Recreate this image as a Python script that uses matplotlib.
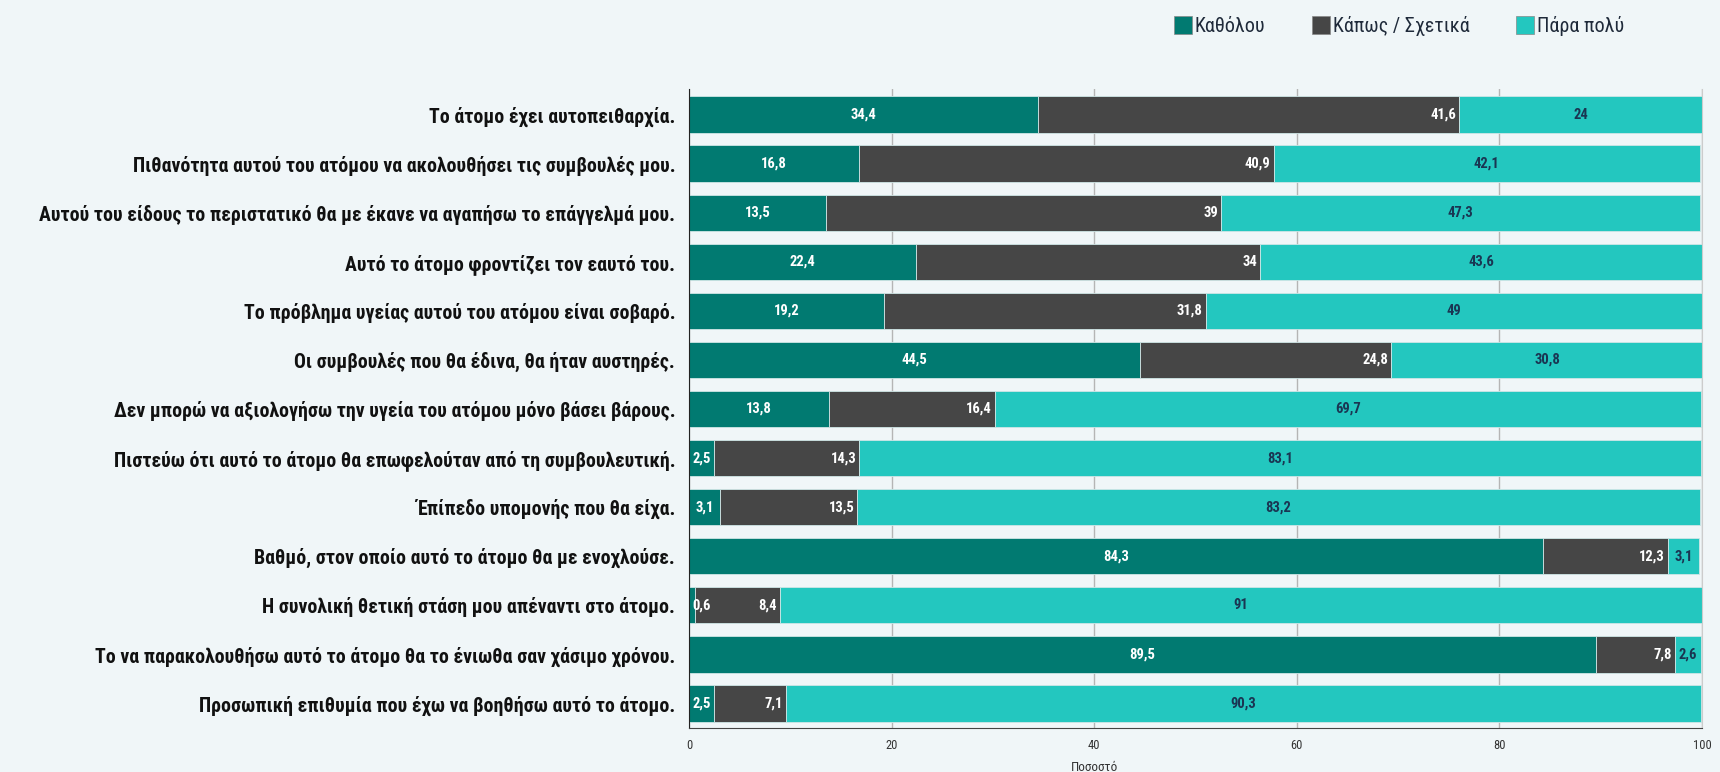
import matplotlib
matplotlib.use("Agg")
import matplotlib.pyplot as plt
from matplotlib import font_manager
from matplotlib.patches import Patch
import numpy as np

# ---------------------------------------------------------------
# data (top row first)
# ---------------------------------------------------------------
labels = [
    "Το άτομο έχει αυτοπειθαρχία.",
    "Πιθανότητα αυτού του ατόμου να ακολουθήσει τις συμβουλές μου.",
    "Αυτού του είδους το περιστατικό θα με έκανε να αγαπήσω το επάγγελμά μου.",
    "Αυτό το άτομο φροντίζει τον εαυτό του.",
    "Το πρόβλημα υγείας αυτού του ατόμου είναι σοβαρό.",
    "Οι συμβουλές που θα έδινα, θα ήταν αυστηρές.",
    "Δεν μπορώ να αξιολογήσω την υγεία του ατόμου μόνο βάσει βάρους.",
    "Πιστεύω ότι αυτό το άτομο θα επωφελούταν από τη συμβουλευτική.",
    "Έπίπεδο υπομονής που θα είχα.",
    "Βαθμό, στον οποίο αυτό το άτομο θα με ενοχλούσε.",
    "Η συνολική θετική στάση μου απέναντι στο άτομο.",
    "Το να παρακολουθήσω αυτό το άτομο θα το ένιωθα σαν χάσιμο χρόνου.",
    "Προσωπική επιθυμία που έχω να βοηθήσω αυτό το άτομο.",
]
kathólou = [34.4, 16.8, 13.5, 22.4, 19.2, 44.5, 13.8, 2.5, 3.1, 84.3, 0.6, 89.5, 2.5]
kapos = [41.6, 40.9, 39, 34, 31.8, 24.8, 16.4, 14.3, 13.5, 12.3, 8.4, 7.8, 7.1]
para_poly = [24, 42.1, 47.3, 43.6, 49, 30.8, 69.7, 83.1, 83.2, 3.1, 91, 2.6, 90.3]

series_names = ["Καθόλου", "Κάπως / Σχετικά", "Πάρα πολύ"]
colors = ["#017a71", "#464646", "#23c7bf"]
xticks = [0, 20, 40, 60, 80, 100]
xlabel = "Ποσοστό"

# ---------------------------------------------------------------
# fonts: prefer a condensed face, fall back to what exists
# ---------------------------------------------------------------
names = {f.name for f in font_manager.fontManager.ttflist}
cond = next((n for n in ["Liberation Sans Narrow", "Roboto Condensed",
                         "Open Sans Condensed", "DejaVu Sans"] if n in names),
            "DejaVu Sans")
plt.rcParams["font.family"] = [cond, "DejaVu Sans"]

bg = "#f0f6f8"
fig = plt.figure(figsize=(17.2, 7.72), dpi=100, facecolor=bg)
ax = fig.add_axes([0.4006, 0.057, 0.589, 0.8277])
ax.set_facecolor(bg)

y = np.arange(len(labels))
k = np.array(kathólou)
s = np.array(kapos)
p = np.array(para_poly)

h = 0.74
ax.barh(y, k, height=h, color=colors[0], edgecolor="#cfe6e6", lw=0.6, zorder=2)
ax.barh(y, s, left=k, height=h, color=colors[1], edgecolor="#cfe6e6", lw=0.6, zorder=2)
ax.barh(y, p, left=k + s, height=h, color=colors[2], edgecolor="#cfe6e6", lw=0.6, zorder=2)


def fmt(v):
    return f"{v:g}".replace(".", ",")


vfont = dict(fontsize=10.5, fontweight="bold", va="center", zorder=3)
for i in range(len(labels)):
    ax.text(max(k[i] / 2, 1.25), i, fmt(k[i]), color="white", ha="center", **vfont)
    ax.text(k[i] + s[i] - 0.3, i, fmt(s[i]), color="white", ha="right", **vfont)
    ax.text(k[i] + s[i] + p[i] / 2, i, fmt(p[i]), color="#1a3552", ha="center", **vfont)

ax.set_xlim(0, 100)
ax.set_ylim(len(labels) - 0.5, -0.52)
ax.set_yticks(y)
ax.set_yticklabels(labels, fontsize=14.3, fontweight="bold", color="#111111")
ax.tick_params(axis="y", length=0, pad=10)
ax.set_xticks(xticks)
ax.tick_params(axis="x", length=0, pad=8, labelsize=9, labelcolor="#333333")
ax.set_xlabel(xlabel, fontsize=9.5, color="#333333")
ax.xaxis.set_label_coords(0.40, -0.052)

ax.grid(axis="x", color="#b5b5b5", lw=1, zorder=0)
ax.set_axisbelow(True)
ax.spines["left"].set_color("#222222")
ax.spines["bottom"].set_color("#444444")
ax.spines["right"].set_color("#cccccc")
ax.spines["top"].set_visible(False)

handles = [Patch(facecolor=c, edgecolor="#888888", lw=0.5) for c in colors]
fig.legend(handles, series_names, loc="upper left", bbox_to_anchor=(0.673, 1.0),
           ncol=3, frameon=False, fontsize=14.5, handlelength=0.9, handleheight=1.0,
           handletextpad=0.15, columnspacing=2.3, labelcolor="#1f2a3a",
           borderaxespad=0.4)

fig.savefig("out.png", dpi=100, facecolor=bg)
